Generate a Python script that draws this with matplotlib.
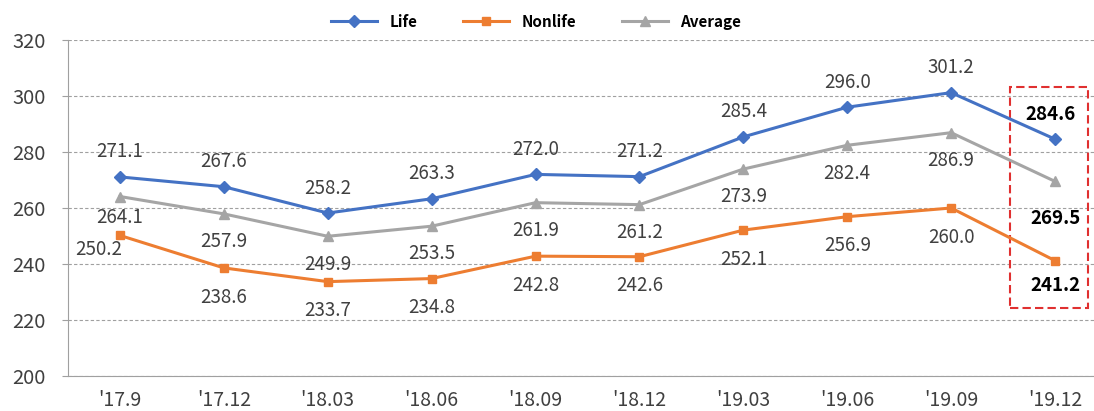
import matplotlib.pyplot as plt
import matplotlib.patches as patches

# data
quarters = ["'17.9", "'17.12", "'18.03", "'18.06", "'18.09", "'18.12",
            "'19.03", "'19.06", "'19.09", "'19.12"]
life = [271.1, 267.6, 258.2, 263.3, 272.0, 271.2, 285.4, 296.0, 301.2, 284.6]
nonlife = [250.2, 238.6, 233.7, 234.8, 242.8, 242.6, 252.1, 256.9, 260.0, 241.2]
average = [264.1, 257.9, 249.9, 253.5, 261.9, 261.2, 273.9, 282.4, 286.9, 269.5]

plt.rcParams['font.family'] = ['Noto Sans CJK KR', 'DejaVu Sans']

W, H = 1094, 411
fig = plt.figure(figsize=(W / 100, H / 100), dpi=100)
# plot area: x 68..1094, y 40..376 (pixels)
ax = fig.add_axes([68 / W, (H - 376) / H, 1 - 68 / W, 336 / H])

x = list(range(len(quarters)))
c_life = '#4472C4'
c_non = '#ED7D31'
c_avg = '#A5A5A5'

ax.plot(x, life, color=c_life, lw=2.2, marker='D', ms=6, label='Life')
ax.plot(x, nonlife, color=c_non, lw=2.2, marker='s', ms=6, label='Nonlife')
ax.plot(x, average, color=c_avg, lw=2.2, marker='^', ms=7, label='Average')

ax.set_xlim(-0.5, 9.375)
ax.set_ylim(200, 320)
ax.set_yticks(range(200, 321, 20))
ax.set_xticks(x)
ax.set_xticklabels(quarters)
ax.tick_params(axis='both', colors='#404040', length=4)
ax.tick_params(axis='x', length=0, pad=10, labelsize=14)
ax.tick_params(axis='y', color='#A0A0A0', pad=12, labelsize=14.5)

ax.grid(axis='y', linestyle=(0, (3, 2)), color='#A0A0A0', lw=0.8)
ax.set_axisbelow(True)
for s in ['top', 'right']:
    ax.spines[s].set_visible(False)
for s in ['left', 'bottom']:
    ax.spines[s].set_color('#A0A0A0')

last = len(quarters) - 1
lab = dict(ha='center', va='center', fontsize=13.5, textcoords='offset points')
for i in x:
    bold = i == last
    kw = dict(lab, color='black' if bold else '#404040',
              fontweight='bold' if bold else 'normal')
    ax.annotate(f'{life[i]:.1f}', (i, life[i]), xytext=(-3 if bold else 0, 18), **kw)
    ady = -27 if bold else (-15 if i == 0 else -20)
    ax.annotate(f'{average[i]:.1f}', (i, average[i]), xytext=(0, ady), **kw)
    dx = -15 if i == 0 else 0
    dy = -10 if i == 0 else (-18 if bold else -21)
    ax.annotate(f'{nonlife[i]:.1f}', (i, nonlife[i]), xytext=(dx, dy), **kw)

# highlight box around the latest quarter (pixel bounds 1010..1088, 87..308)
bx0 = (1010 - 68) / (W - 68)
bx1 = (1088 - 68) / (W - 68)
by0 = (376 - 308) / 336
by1 = (376 - 87) / 336
rect = patches.Rectangle((bx0, by0), bx1 - bx0, by1 - by0, transform=ax.transAxes,
                         fill=False, edgecolor='#E03030', lw=1.5, ls=(0, (4, 2)),
                         clip_on=False)
ax.add_patch(rect)

leg = fig.legend(loc='upper center', bbox_to_anchor=(0.49, 1.0), ncol=3, frameon=False,
                 fontsize=11, handlelength=3, columnspacing=3)
for t in leg.get_texts():
    t.set_fontweight('bold')

fig.savefig('out.png', dpi=100)
